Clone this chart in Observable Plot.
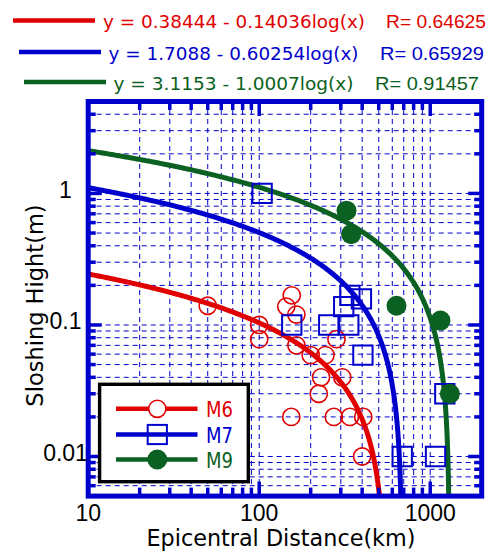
<!DOCTYPE html>
<html>
<head>
<meta charset="utf-8">
<script src="https://cdn.jsdelivr.net/npm/d3@7"></script>
<script src="https://cdn.jsdelivr.net/npm/@observablehq/plot@0.6"></script>
<style>
  body { margin: 0; background: #fff; }
  #wrap { position: relative; width: 491px; height: 551px; overflow: hidden; }
  #wrap > svg { position: absolute; left: 0; top: 0; }
</style>
</head>
<body>
<div id="wrap"></div>
<script>
const red = "#e00000", blue = "#0000cc", green = "#0b6121";

// Sloshing heights (m) against epicentral distance (km), by magnitude
const m6Distance = [50, 100, 100, 155, 144, 165, 165, 200, 244, 283, 230, 306, 223, 154, 273, 339, 406, 400];
const m6Height   = [0.14, 0.1, 0.078, 0.168, 0.138, 0.12, 0.07, 0.059, 0.059, 0.078, 0.04, 0.04, 0.03, 0.02, 0.02, 0.02, 0.02, 0.01];
const m7Distance = [104, 155, 255, 312, 334, 339, 396, 404, 686, 1074, 1217];
const m7Height   = [1.0, 0.1, 0.1, 0.138, 0.1, 0.168, 0.158, 0.059, 0.01, 0.01, 0.03];
const m9Distance = [324, 345, 635, 1148, 1303];
const m9Height   = [0.74, 0.49, 0.14, 0.108, 0.03];

// Regression fits: height = a - b·log(distance)
const fitNames  = ["M6", "M7", "M9"];
const fitA      = [0.38444, 1.7088, 3.1153];
const fitB      = [0.14036, 0.60254, 1.0007];
const fitR      = [0.64625, 0.65929, 0.91457];
const fitAText  = ["0.38444", "1.7088", "3.1153"];
const fitBText  = ["0.14036", "0.60254", "1.0007"];
const fitColors = [red, blue, green];

const xDomain = [10, 2000];
const yDomain = [0.005, 5];
const xMajor = [10, 100, 1000];
const yMajor = [0.01, 0.1, 1];

// every 1..9 × 10^n step inside a domain
function logSteps([lo, hi]) {
  const out = [];
  for (let e = Math.floor(Math.log10(lo)); e <= Math.ceil(Math.log10(hi)); e++)
    for (let k = 1; k <= 9; k++) {
      const v = +(k * 10 ** e).toPrecision(6);
      if (v >= lo && v <= hi) out.push(v);
    }
  return out;
}
const xSteps = logSteps(xDomain), ySteps = logSteps(yDomain);
const xMinor = xSteps.filter(v => !xMajor.includes(v));
const yMinor = ySteps.filter(v => !yMajor.includes(v));
const xGrid = xSteps.filter(v => v > xDomain[0] && v < xDomain[1]);
const yGrid = ySteps.filter(v => v > yDomain[0] && v < yDomain[1]);

const pts = (xs, ys) => xs.map((x, i) => ({x, y: ys[i]}));
const m6 = pts(m6Distance, m6Height);
const m7 = pts(m7Distance, m7Height);
const m9 = pts(m9Distance, m9Height);

// sample a fitted curve densely in both log x and log y so the steep end stays smooth
function fitCurve(i) {
  const a = fitA[i], b = fitB[i];
  const f = x => a - b * Math.log10(x);
  const xEnd = Math.min(xDomain[1], 10 ** ((a - yDomain[0]) / b));
  const lx0 = Math.log10(xDomain[0]), lx1 = Math.log10(xEnd);
  const xs = d3.range(201).map(k => 10 ** (lx0 + (lx1 - lx0) * k / 200));
  const yTop = f(xDomain[0]);
  const ly0 = Math.log10(yTop), ly1 = Math.log10(Math.max(yDomain[0], f(xEnd)));
  d3.range(201).forEach(k => {
    const y = 10 ** (ly0 + (ly1 - ly0) * k / 200);
    xs.push(10 ** ((a - y) / b));
  });
  return xs.filter(x => x >= xDomain[0] && x <= xEnd).sort((p, q) => p - q)
    .map(x => ({x, y: f(x)})).filter(d => d.y > 0);
}

const tick = {stroke: blue, strokeWidth: 3.5, text: null, label: null};
const W = 491, H = 551;

const chart = Plot.plot({
  width: W, height: H,
  marginTop: 101, marginBottom: 55.4, marginLeft: 87.7, marginRight: 9.8,
  style: {background: "white", fontFamily: "'Liberation Sans', Arial, sans-serif", fontSize: "23px", color: "black", overflow: "visible"},
  x: {type: "log", domain: xDomain, label: null},
  y: {type: "log", domain: yDomain, label: null},
  marks: [
    Plot.ruleX(xGrid, {stroke: blue, strokeWidth: 1, strokeDasharray: "5,4"}),
    Plot.ruleY(yGrid, {stroke: blue, strokeWidth: 1, strokeDasharray: "5,4"}),
    ...fitA.map((a, i) => Plot.line(fitCurve(i), {x: "x", y: "y", stroke: fitColors[i], strokeWidth: 5, clip: true})),
    Plot.dot(m6, {x: "x", y: "y", r: 8.6, stroke: red, strokeWidth: 1.6, fill: "none"}),
    Plot.dot(m7, {x: "x", y: "y", symbol: "square", r: 10.9, stroke: blue, strokeWidth: 2, fill: "none"}),
    Plot.dot(m9, {x: "x", y: "y", r: 10, fill: green, stroke: "none"}),
    // inward ticks on all four sides
    Plot.axisX(xMinor, {anchor: "bottom", tickSize: -8, ...tick}),
    Plot.axisX(xMajor, {anchor: "bottom", tickSize: -14, ...tick}),
    Plot.axisX(xMinor, {anchor: "top", tickSize: -8, ...tick}),
    Plot.axisX(xMajor, {anchor: "top", tickSize: -14, ...tick}),
    Plot.axisY(yMinor, {anchor: "left", tickSize: -8, ...tick}),
    Plot.axisY(yMajor, {anchor: "left", tickSize: -14, ...tick}),
    Plot.axisY(yMinor, {anchor: "right", tickSize: -8, ...tick}),
    Plot.axisY(yMajor, {anchor: "right", tickSize: -14, ...tick}),
    Plot.frame({stroke: blue, strokeWidth: 5}),
    // tick labels
    Plot.axisX(xMajor, {anchor: "bottom", tickSize: 0, tickPadding: 8.5, tickFormat: d => String(d), fontSize: 23, label: null}),
    Plot.axisY(yMajor, {anchor: "left", tickSize: 0, tickPadding: 22.7, textAnchor: "middle", dy: -3, tickFormat: d => String(d), fontSize: 23, label: null}),
    // axis titles
    Plot.text(["Epicentral Distance(km)"], {frameAnchor: "bottom", dx: -4, dy: 43.2, lineAnchor: "middle", fontSize: 22.3, fontFamily: "'DejaVu Sans', sans-serif", fill: "black"}),
    Plot.text(["Sloshing Hight(m)"], {frameAnchor: "left", dx: -52, dy: 6.7, rotate: -90, lineAnchor: "middle", textAnchor: "middle", fontSize: 22.5, fontFamily: "'DejaVu Sans', sans-serif", fill: "black"})
  ]
});

const wrap = document.getElementById("wrap");
wrap.appendChild(chart);

// Fit equations above the chart and the marker key inside the plot
const svg = d3.select(wrap).append("svg").attr("width", W).attr("height", H)
  .style("pointer-events", "none")
  .attr("font-family", "'DejaVu Sans', sans-serif");

const row = {lineX: [13, 19, 24], lineY: [20.5, 52, 82], eqX: [103, 108.5, 113.5], base: [28.3, 60.3, 90],
             eqW: [262, 250, 240], rX: [386, 380, 375], rW: [100, 104, 104]};
fitNames.forEach((name, i) => {
  svg.append("line").attr("x1", row.lineX[i]).attr("x2", row.lineX[i] + 82)
    .attr("y1", row.lineY[i]).attr("y2", row.lineY[i])
    .attr("stroke", fitColors[i]).attr("stroke-width", 4.5);
  svg.append("text").attr("x", row.eqX[i]).attr("y", row.base[i])
    .attr("font-size", 18).attr("fill", fitColors[i])
    .attr("textLength", row.eqW[i]).attr("lengthAdjust", "spacingAndGlyphs")
    .text(`y = ${fitAText[i]} - ${fitBText[i]}log(x)`);
  svg.append("text").attr("x", row.rX[i]).attr("y", row.base[i])
    .attr("font-size", 18).attr("fill", fitColors[i])
    .attr("font-family", "'Liberation Sans', Arial, sans-serif")
    .attr("textLength", row.rW[i]).attr("lengthAdjust", "spacingAndGlyphs")
    .text(`R= ${fitR[i]}`);
});

const key = svg.append("g");
key.append("rect").attr("x", 99.6).attr("y", 384.3).attr("width", 148.7).attr("height", 97.4)
  .attr("fill", "white").attr("stroke", "black").attr("stroke-width", 3.4);
const keyY = [408.8, 434.5, 459.5];
fitNames.forEach((name, i) => {
  const y = keyY[i];
  key.append("line").attr("x1", 116).attr("x2", 197.5).attr("y1", y).attr("y2", y)
    .attr("stroke", fitColors[i]).attr("stroke-width", 4.5);
  if (i === 0) key.append("circle").attr("cx", 157.3).attr("cy", y).attr("r", 8.6)
    .attr("fill", "white").attr("stroke", red).attr("stroke-width", 1.6);
  if (i === 1) key.append("rect").attr("x", 157.3 - 9.6).attr("y", y - 9.6).attr("width", 19.2).attr("height", 19.2)
    .attr("fill", "none").attr("stroke", blue).attr("stroke-width", 2);
  if (i === 2) key.append("circle").attr("cx", 157.3).attr("cy", y).attr("r", 10).attr("fill", green);
  key.append("text").attr("x", 206).attr("y", y + 8).attr("font-size", 21)
    .attr("fill", fitColors[i]).attr("textLength", 27).attr("lengthAdjust", "spacingAndGlyphs")
    .text(name);
});
</script>
</body>
</html>
